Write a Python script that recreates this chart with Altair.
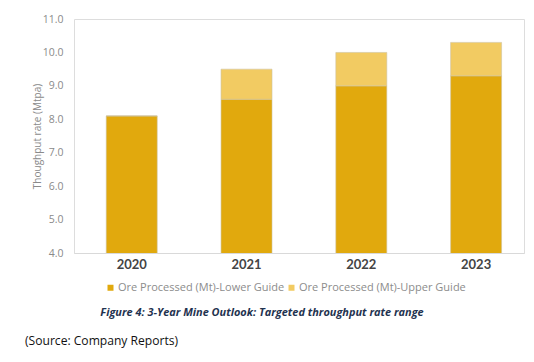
import altair as alt
import pandas as pd

years = ["2020", "2021", "2022", "2023"]
lower_guide = [8.1, 8.6, 9.0, 9.3]
upper_guide = [8.1, 9.5, 10.0, 10.3]
series = ["Ore Processed (Mt)-Lower Guide", "Ore Processed (Mt)-Upper Guide"]
colors = ["#E1A90D", "#F2CB62"]
y_ticks = [4, 5, 6, 7, 8, 9, 10, 11]
caption = "Figure 4: 3-Year Mine Outlook: Targeted throughput rate range"
source = "(Source: Company Reports)"

rows = []
for yr, lo, up in zip(years, lower_guide, upper_guide):
    rows.append({"year": yr, "series": series[0], "value": lo, "order": 0})
    rows.append({"year": yr, "series": series[1], "value": round(up - lo, 3), "order": 1})
df = pd.DataFrame(rows)

FONT = "Lato"
LIGHT = "Open Sans"

bars = alt.Chart(df).mark_bar(clip=True, stroke="#cfc3a0", strokeWidth=0.6).encode(
    x=alt.X("year:N", sort=years,
            scale=alt.Scale(paddingInner=0.556, paddingOuter=0.238, align=0.59),
            axis=alt.Axis(title=None, labelAngle=0, labelFont=FONT, labelFontWeight="bold",
                          labelFontSize=13, labelColor="#444444", labelPadding=5,
                          ticks=False, domainColor="#d9d9d9", domainWidth=1.2, grid=False)),
    y=alt.Y("value:Q", stack="zero",
            scale=alt.Scale(domain=[4, 11], nice=False, zero=False),
            axis=alt.Axis(title="Thoughput rate (Mtpa)", values=y_ticks, format=".1f",
                          labelFont=LIGHT, labelFontSize=10.5, labelColor="#8a8a8a",
                          labelPadding=11, ticks=False, domain=False, grid=False,
                          titleFont=LIGHT, titleFontSize=10, titleColor="#8a8a8a",
                          titleFontWeight="normal", titlePadding=0)),
    color=alt.Color("series:N", sort=series,
                    scale=alt.Scale(domain=series, range=colors),
                    legend=alt.Legend(title=None, orient="none", legendX=31, legendY=263,
                                      direction="horizontal", columns=2, columnPadding=1,
                                      symbolType="square", symbolSize=36, symbolStrokeWidth=0,
                                      labelFont=LIGHT, labelFontSize=11, labelColor="#8c8c8c",
                                      labelOffset=2, labelLimit=300)),
    order=alt.Order("order:Q"),
)

cap = alt.Chart(pd.DataFrame({"t": [caption]})).mark_text(
    font="Open Sans", fontSize=10.95, fontWeight="bold", fontStyle="italic",
    color="#1F3350", align="center", baseline="middle"
).encode(text="t:N", x=alt.value(188), y=alt.value(294))

src = alt.Chart(pd.DataFrame({"t": [source]})).mark_text(
    font="Open Sans", fontSize=12.1, color="#111111", align="left", baseline="middle"
).encode(text="t:N", x=alt.value(-49), y=alt.value(322))

chart = alt.layer(bars, cap, src).properties(
    width=450, height=234,
    autosize=alt.AutoSizeParams(type="none"),
    padding={"left": 66, "top": 11, "right": 2, "bottom": 96},
).configure_view(stroke=None).configure(background="white")

chart.save("out.html", embed_options={"renderer": "svg", "actions": False})
